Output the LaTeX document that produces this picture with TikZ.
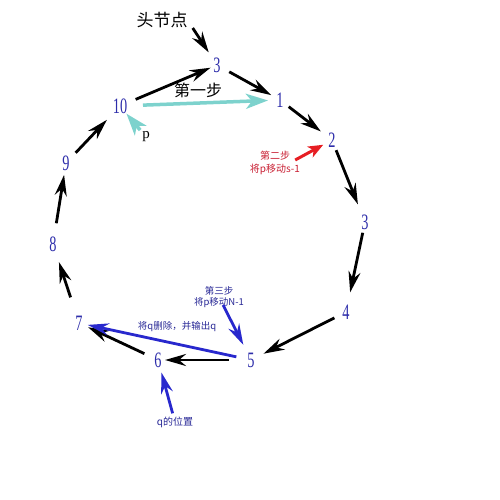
\documentclass[tikz,border=0pt]{standalone}
\usepackage{fontspec}
\setmainfont{Liberation Serif}
\newfontfamily\numfont[FakeStretch=0.65]{Liberation Serif}
\newfontfamily\cjk{Noto Sans CJK SC}
\usetikzlibrary{arrows.meta}
\definecolor{numblue}{RGB}{45,45,170}
\definecolor{arrblue}{RGB}{40,40,205}
\definecolor{txtblue}{RGB}{40,40,150}
\definecolor{cyanar}{RGB}{125,210,205}
\definecolor{redtxt}{RGB}{200,30,50}
\definecolor{redar}{RGB}{230,30,35}
\begin{document}
\begin{tikzpicture}[x=1pt,y=-1pt,
  num/.style={text=numblue, font=\numfont\fontsize{22}{22}\selectfont, inner sep=0pt},
  blk/.style={line width=2.8pt, black, -{Stealth[length=21pt,width=12pt,inset=7pt]}},
  blu/.style={line width=2.8pt, arrblue, -{Stealth[length=21pt,width=12pt,inset=7pt]}},
  cya/.style={line width=3.5pt, cyanar, -{Stealth[length=22pt,width=15pt,inset=6pt]}},
  rar/.style={line width=3pt, redar, -{Stealth[length=15pt,width=12pt,inset=4pt]}},
  lab/.style={inner sep=0pt, align=center}
]
\useasboundingbox (0,0) rectangle (500,500);
% number nodes
\node[num] (a3) at (217,65) {3};
\node[num] (n1) at (280,100) {1};
\node[num] (n2) at (332,140) {2};
\node[num] (n3) at (365,222) {3};
\node[num] (n4) at (346,312) {4};
\node[num] (n5) at (251,360) {5};
\node[num] (n6) at (158,360) {6};
\node[num] (n7) at (79,323) {7};
\node[num] (n8) at (53,244) {8};
\node[num] (n9) at (66,163) {9};
\node[num] (n10) at (120,106) {10};
% labels
\node[lab, font=\cjk\fontsize{17}{17}\selectfont] (h) at (162,20) {头节点};
\node[lab, font=\cjk\fontsize{16}{16}\selectfont] (s1) at (198,90) {第一步};
\node[lab, font=\fontsize{15}{15}\selectfont] (p) at (146,137) {p};
\node[lab, text=redtxt, font=\cjk\fontsize{10}{12.5}\selectfont] (l2) at (275,163) {第二步\\将p移动s-1};
\node[lab, text=txtblue, font=\cjk\fontsize{9.5}{10.5}\selectfont] (l3) at (219,297) {第三步\\将p移动N-1};
\node[lab, text=txtblue, font=\cjk\fontsize{9.5}{10}\selectfont] (del) at (177,327) {将q删除，并输出q};
\node[lab, text=txtblue, font=\cjk\fontsize{10}{10}\selectfont] (qpos) at (175,422) {q的位置};
% black ring arrows
\draw[blk, shorten >=15pt] ([xshift=5pt]h.south east) -- (a3.center);
\draw[blk, shorten <=17pt, shorten >=7pt] (n10.center) -- (a3.center);
\draw[blk, shorten <=14pt, shorten >=10pt] (a3.center) -- (n1.center);
\draw[blk, shorten <=11pt, shorten >=14pt] (n1.center) -- (n2.center);
\draw[blk, shorten <=11pt, shorten >=19pt] (n2.center) -- (n3.center);
\draw[blk, shorten <=11pt, shorten >=20pt] (n3.center) -- (n4.center);
\draw[blk, shorten <=13pt, shorten >=14pt] (n4.center) -- (n5.center);
\draw[blk, shorten <=22pt, shorten >=7pt] (n5.center) -- (n6.center);
\draw[blk, shorten <=15pt, shorten >=10pt] (n6.center) -- (n7.center);
\draw[blk, shorten <=27pt, shorten >=19pt] (n7.center) -- (n8.center);
\draw[blk, shorten <=21pt, shorten >=12pt] (n8.center) -- (n9.center);
\draw[blk, shorten <=14pt, shorten >=19pt] (n9.center) -- (n10.center);
% blue arrows
\draw[blu, shorten <=15pt, shorten >=9pt] (n5.center) -- (n7.center);
\draw[blu, shorten <=9pt, shorten >=17pt] (l3.center) -- (n5.center);
\draw[blu, shorten <=9pt, shorten >=13pt] (qpos.center) -- (n6.center);
% red arrow
\draw[rar, shorten >=10pt] ([shift={(-5,-3)}]l2.east) -- (n2.center);
% cyan arrows
\draw[cya, shorten <=23pt, shorten >=12pt] (n10.center) -- (n1.center);
\draw[cya, shorten <=9pt, shorten >=10pt] (p.center) -- (n10.center);
\end{tikzpicture}
\end{document}
